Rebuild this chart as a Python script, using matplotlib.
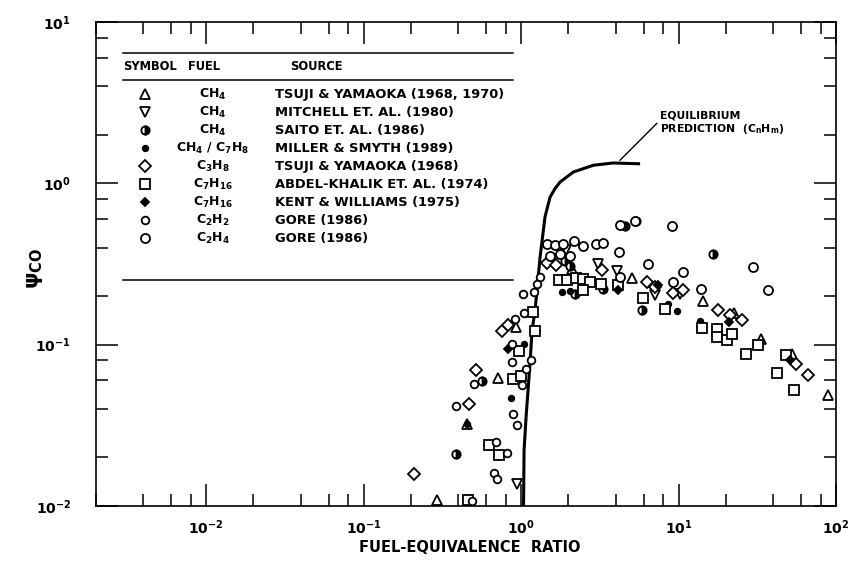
import numpy as np
import matplotlib.pyplot as plt
from matplotlib.ticker import LogLocator, FuncFormatter, NullFormatter

plt.rcParams['font.family'] = ['DejaVu Sans']
plt.rcParams['mathtext.fontset'] = 'dejavusans'
plt.rcParams['mathtext.default'] = 'bf'

# equilibrium prediction (CnHm)
curve_phi = [1.037, 1.045, 1.076, 1.140, 1.175, 1.227, 1.321, 1.419, 1.528, 1.644, 1.770, 2.148, 2.877, 3.855, 5.70]
curve_psi = [0.010, 0.0221, 0.0356, 0.0766, 0.1227, 0.163, 0.349, 0.618, 0.822, 0.927, 1.019, 1.175, 1.294, 1.337, 1.321]

# CH4 Tsuji & Yamaoka (1968, 1970)
tsuji_ch4_x = [0.93, 0.718, 0.452, 0.292, 2.10, 5.07, 14.4, 22.5, 33.5, 52.3, 89.4]
tsuji_ch4_y = [0.1285, 0.0624, 0.0324, 0.0109, 0.296, 0.258, 0.1875, 0.157, 0.108, 0.0874, 0.0487]

# CH4 Mitchell et al. (1980)
mitchell_x = [0.94, 1.93, 3.10, 4.05, 7.09, 10.2]
mitchell_y = [0.0136, 0.388, 0.318, 0.286, 0.202, 0.207]

# CH4 Saito et al. (1986)
saito_x = [0.563, 0.387, 4.57, 5.37, 16.6, 5.84, 1.90, 2.05, 2.20, 3.33]
saito_y = [0.0595, 0.0209, 0.541, 0.584, 0.363, 0.165, 0.330, 0.306, 0.207, 0.222]

# CH4/C7H8 Miller & Smyth (1989)
miller_x = [0.86, 1.04, 0.452, 1.81, 2.05, 9.74, 8.62, 13.7]
miller_y = [0.0469, 0.1004, 0.0324, 0.212, 0.215, 0.161, 0.178, 0.140]

# C3H8 Tsuji & Yamaoka (1968)
tsuji_c3h8_x = [0.209, 0.470, 0.518, 0.754, 0.83, 1.46, 1.67, 3.25, 6.28, 7.09, 9.27, 10.7, 17.9, 21.2, 25.4, 55.5, 66.1]
tsuji_c3h8_y = [0.0157, 0.043, 0.070, 0.1215, 0.132, 0.321, 0.310, 0.289, 0.245, 0.228, 0.209, 0.217, 0.163, 0.152, 0.1415, 0.0755, 0.0652]

# C7H16 Abdel-Khalik et al. (1974)
abdel_x = [1.19, 1.23, 0.975, 0.893, 0.996, 0.629, 0.725, 0.463, 1.75, 1.97, 2.23, 2.49, 2.74, 3.22, 2.49,
           4.15, 5.98, 8.21, 14.0, 17.6, 17.6, 20.2, 21.8, 31.8, 26.8, 48.2, 42.0, 54.1]
abdel_y = [0.159, 0.1215, 0.0912, 0.0615, 0.0636, 0.0238, 0.0206, 0.0109, 0.2505, 0.253, 0.260, 0.2565, 0.2445, 0.239, 0.217,
           0.233, 0.1955, 0.167, 0.1275, 0.1256, 0.1114, 0.1074, 0.116, 0.099, 0.088, 0.0867, 0.0667, 0.0521]

# C7H16 Kent & Williams (1975)
kent_x = [0.83, 4.15, 7.45, 21.0, 51.0]
kent_y = [0.0935, 0.219, 0.233, 0.138, 0.0807]

# C2H2 Gore (1986)
gore_c2h2_x = [1.03, 0.916, 1.04, 0.873, 1.15, 0.873, 1.08, 1.01, 0.503, 0.387, 0.886, 0.94, 0.691, 0.819, 0.674, 0.708, 0.486, 1.32, 1.26, 1.20]
gore_c2h2_y = [0.205, 0.145, 0.157, 0.1014, 0.080, 0.078, 0.071, 0.056, 0.0567, 0.0414, 0.0373, 0.0316, 0.0249, 0.0213, 0.0159, 0.0146, 0.0108, 0.262, 0.239, 0.212]

# C2H4 Gore (1986)
gore_c2h4_x = [1.47, 1.64, 1.86, 2.17, 2.47, 2.99, 3.30, 4.19, 4.25, 5.29, 9.05, 6.43, 10.6, 29.9, 37.2, 13.8, 9.27, 1.53, 1.77, 2.05, 4.25]
gore_c2h4_y = [0.419, 0.413, 0.419, 0.439, 0.407, 0.419, 0.427, 0.375, 0.549, 0.581, 0.541, 0.315, 0.282, 0.303, 0.219, 0.220, 0.244, 0.353, 0.366, 0.353, 0.262]

fuels = ['CH$_4$', 'CH$_4$', 'CH$_4$', 'CH$_4$ / C$_7$H$_8$', 'C$_3$H$_8$', 'C$_7$H$_{16}$', 'C$_7$H$_{16}$', 'C$_2$H$_2$', 'C$_2$H$_4$']
sources = ['TSUJI & YAMAOKA (1968, 1970)', 'MITCHELL ET. AL. (1980)', 'SAITO ET. AL. (1986)',
           'MILLER & SMYTH (1989)', 'TSUJI & YAMAOKA (1968)', 'ABDEL-KHALIK ET. AL. (1974)',
           'KENT & WILLIAMS (1975)', 'GORE (1986)', 'GORE (1986)']

mew = 1.3
styles = [
    dict(marker='^', ms=6.5, mfc='white', mec='k', mew=mew),
    dict(marker='v', ms=6.5, mfc='white', mec='k', mew=mew),
    dict(marker='o', ms=6, mfc='k', mec='k', mew=mew, fillstyle='right', markerfacecoloralt='white'),
    dict(marker='o', ms=4, mfc='k', mec='k', mew=mew),
    dict(marker='D', ms=6, mfc='white', mec='k', mew=mew),
    dict(marker='s', ms=6.5, mfc='white', mec='k', mew=mew),
    dict(marker='D', ms=4.5, mfc='k', mec='k', mew=mew),
    dict(marker='o', ms=5.5, mfc='white', mec='k', mew=mew),
    dict(marker='o', ms=6.5, mfc='white', mec='k', mew=mew),
]
data = [(tsuji_ch4_x, tsuji_ch4_y), (mitchell_x, mitchell_y), (saito_x, saito_y),
        (miller_x, miller_y), (tsuji_c3h8_x, tsuji_c3h8_y), (abdel_x, abdel_y),
        (kent_x, kent_y), (gore_c2h2_x, gore_c2h2_y), (gore_c2h4_x, gore_c2h4_y)]

fig = plt.figure(figsize=(8.55, 5.68), dpi=100)
ax = fig.add_axes([0.1123, 0.1092, 0.8655, 0.8521])
ax.set_xscale('log')
ax.set_yscale('log')
ax.set_xlim(2e-3, 100)
ax.set_ylim(1e-2, 10)

ax.plot(curve_phi, curve_psi, color='k', lw=2.2, solid_capstyle='butt')

for (xs, ys), st in zip(data, styles):
    ax.plot(xs, ys, ls='none', clip_on=False, **st)

# equilibrium label
ax.plot([4.25, 7.27], [1.39, 2.35], color='k', lw=1)
ax.text(7.63, 2.37, 'EQUILIBRIUM\nPREDICTION  (C$_n$H$_m$)', fontsize=7.8, fontweight='bold',
        ha='left', va='center', linespacing=1.15)

# axes styling
for sp in ax.spines.values():
    sp.set_linewidth(1.2)
for axis in (ax.xaxis, ax.yaxis):
    axis.set_major_locator(LogLocator(base=10, numticks=20))
    axis.set_minor_locator(LogLocator(base=10, subs=(2, 4, 6, 8), numticks=20))
    axis.set_minor_formatter(NullFormatter())
    axis.set_major_formatter(FuncFormatter(lambda v, p: r'$10^{%d}$' % round(np.log10(v))))
ax.tick_params(which='both', direction='in', top=True, right=True, width=1.1)
ax.tick_params(which='major', length=16, labelsize=10)
ax.tick_params(which='minor', length=8.5)
ax.tick_params(axis='x', which='major', pad=9)
ax.tick_params(axis='y', which='major', pad=18)

fig.text(35 / 855, 1 - 268 / 568, r'$\psi_{CO}$', fontsize=15, rotation=90, ha='center', va='center')
fig.text(470 / 855, 1 - 548 / 568, 'FUEL-EQUIVALENCE  RATIO', fontsize=10.5, fontweight='bold',
         ha='center', va='center')

# legend table
tr = ax.transAxes
x_l, x_r = 0.0365, 0.5635
x_sym, x_fuel, x_src = 0.0662, 0.158, 0.2419
for yl in (0.936, 0.880, 0.467):
    ax.plot([x_l, x_r], [yl, yl], color='k', lw=1.1, transform=tr)
ax.text(x_l, 0.907, 'SYMBOL', transform=tr, fontsize=8.3, fontweight='bold', va='center')
ax.text(0.1243, 0.907, 'FUEL', transform=tr, fontsize=8.3, fontweight='bold', va='center')
ax.text(0.2622, 0.907, 'SOURCE', transform=tr, fontsize=8.3, fontweight='bold', va='center')
y0, dy = 0.851, 0.0372
for i, (fu, src, st) in enumerate(zip(fuels, sources, styles)):
    yy = y0 - i * dy
    ax.plot([x_sym], [yy], transform=tr, ls='none', **st)
    ax.text(x_fuel, yy, fu, transform=tr, fontsize=9, fontweight='bold', ha='center', va='center')
    ax.text(x_src, yy, src, transform=tr, fontsize=9.4, fontweight='bold', ha='left', va='center')

fig.savefig('out.png', dpi=100)
